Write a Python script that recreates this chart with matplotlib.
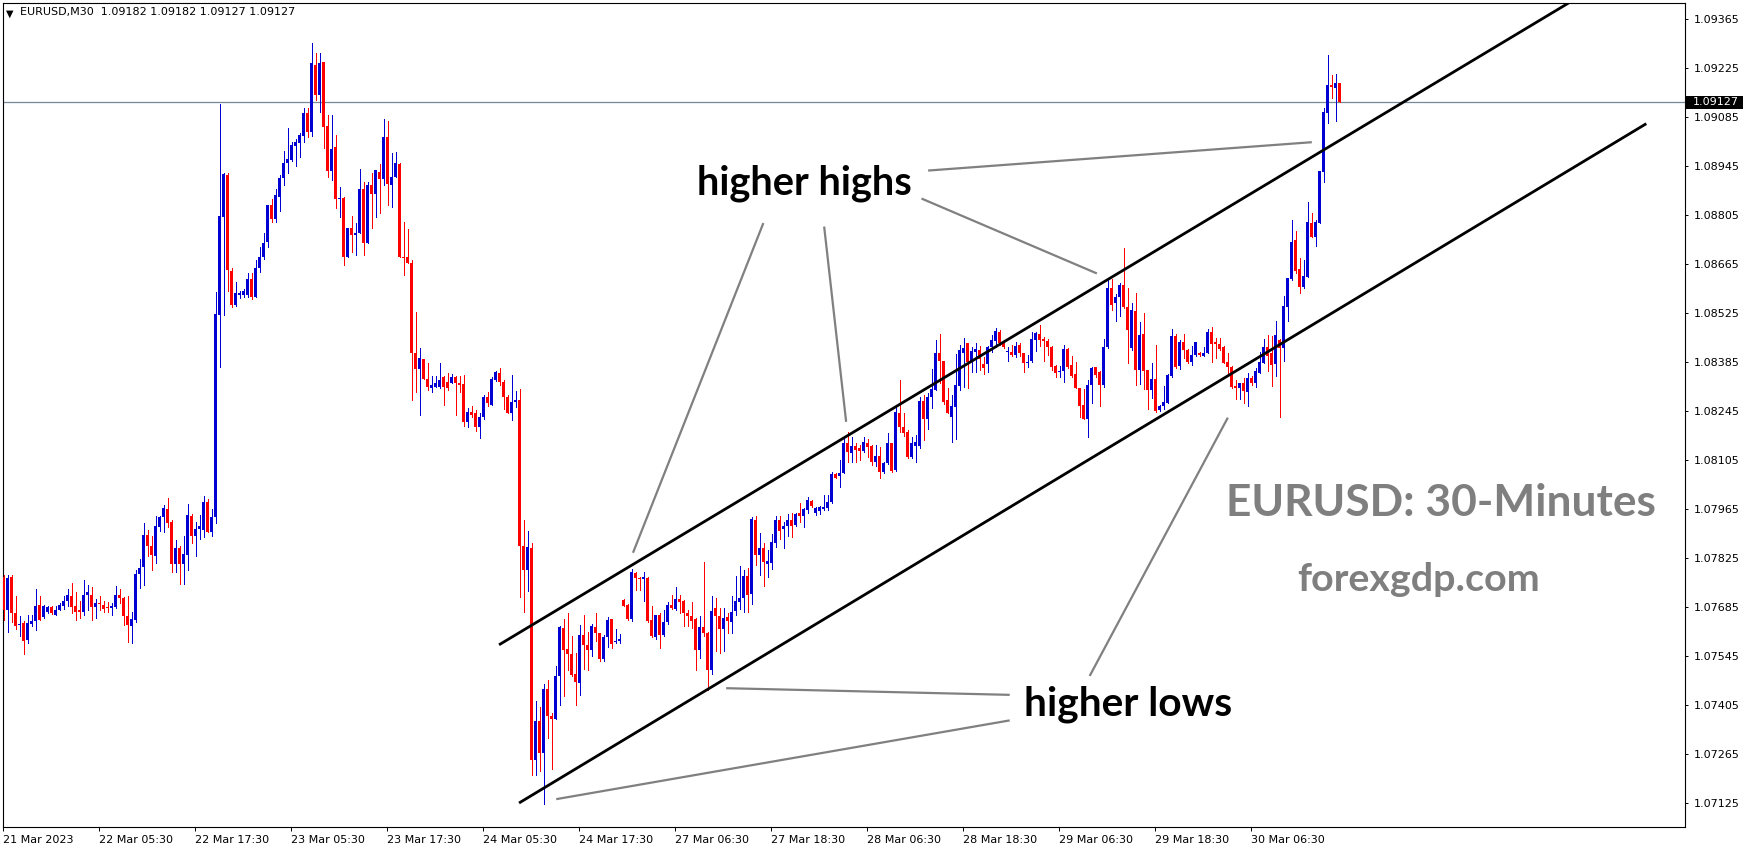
import matplotlib
matplotlib.use("Agg")
import matplotlib.pyplot as plt
import matplotlib.transforms as mtransforms
from matplotlib.patches import Rectangle
import numpy as np

# ---------------- data (EURUSD M30) ----------------
opens = [
    1.07772, 1.07676, 1.07772, 1.07668, 1.07633, 1.07640, 1.07592, 1.07637, 1.07644, 1.07692,
    1.07657, 1.07671, 1.07685, 1.07663, 1.07677, 1.07689, 1.07701, 1.07717, 1.07687, 1.07676,
    1.07671, 1.07718, 1.07720, 1.07685, 1.07695, 1.07692, 1.07683, 1.07681, 1.07685, 1.07719,
    1.07712, 1.07660, 1.07630, 1.07647, 1.07778, 1.07798, 1.07891, 1.07860, 1.07832, 1.07913,
    1.07942, 1.07966, 1.07928, 1.07809, 1.07854, 1.07807, 1.07835, 1.07945, 1.07889, 1.07907,
    1.07906, 1.07985, 1.07898, 1.07942, 1.08519, 1.08800, 1.08919, 1.08646, 1.08548, 1.08577,
    1.08577, 1.08577, 1.08621, 1.08572, 1.08653, 1.08686, 1.08729, 1.08834, 1.08795, 1.08857,
    1.08910, 1.08953, 1.08962, 1.09002, 1.09012, 1.09031, 1.09097, 1.09043, 1.09233, 1.09148,
    1.09243, 1.09059, 1.08932, 1.09000, 1.08851, 1.08855, 1.08686, 1.08767, 1.08748, 1.08754,
    1.08878, 1.08726, 1.08891, 1.08865, 1.08929, 1.08908, 1.09029, 1.08891, 1.08914, 1.08951,
    1.08686, 1.08686, 1.08667, 1.08412, 1.08364, 1.08393, 1.08336, 1.08310, 1.08315, 1.08315,
    1.08343, 1.08329, 1.08326, 1.08343, 1.08324, 1.08322, 1.08214, 1.08243, 1.08238, 1.08200,
    1.08227, 1.08284, 1.08262, 1.08334, 1.08355, 1.08329, 1.08286, 1.08238, 1.08272, 1.08277,
    1.07860, 1.07790, 1.07853, 1.07248, 1.07360, 1.07269, 1.07450, 1.07374, 1.07366, 1.07487,
    1.07625, 1.07565, 1.07551, 1.07494, 1.07468, 1.07606, 1.07577, 1.07561, 1.07627, 1.07611,
    1.07536, 1.07599, 1.07650, 1.07584, 1.07587, 1.07706, 1.07691, 1.07650, 1.07782, 1.07768,
    1.07765, 1.07769, 1.07647, 1.07598, 1.07663, 1.07606, 1.07641, 1.07691, 1.07679, 1.07708,
    1.07701, 1.07669, 1.07660, 1.07650, 1.07563, 1.07628, 1.07612, 1.07506, 1.07682, 1.07660,
    1.07622, 1.07655, 1.07641, 1.07674, 1.07698, 1.07710, 1.07774, 1.07723, 1.07934, 1.07834,
    1.07853, 1.07808, 1.07812, 1.07869, 1.07934, 1.07907, 1.07915, 1.07934, 1.07920, 1.07953,
    1.07944, 1.07963, 1.07989, 1.07953, 1.07958, 1.07966, 1.07967, 1.07986, 1.08065, 1.08059,
    1.08069, 1.08155, 1.08126, 1.08145, 1.08138, 1.08132, 1.08154, 1.08146, 1.08100, 1.08116,
    1.08072, 1.08095, 1.08153, 1.08076, 1.08240, 1.08198, 1.08186, 1.08114, 1.08146, 1.08146,
    1.08273, 1.08221, 1.08284, 1.08305, 1.08411, 1.08389, 1.08276, 1.08229, 1.08257, 1.08316,
    1.08411, 1.08438, 1.08386, 1.08414, 1.08419, 1.08379, 1.08379, 1.08429, 1.08446, 1.08471,
    1.08440, 1.08414, 1.08414, 1.08405, 1.08433, 1.08410, 1.08381, 1.08389, 1.08448, 1.08464,
    1.08452, 1.08445, 1.08429, 1.08373, 1.08357, 1.08360, 1.08421, 1.08376, 1.08351, 1.08312,
    1.08262, 1.08222, 1.08320, 1.08370, 1.08355, 1.08320, 1.08427, 1.08596, 1.08553, 1.08572,
    1.08605, 1.08543, 1.08424, 1.08532, 1.08361, 1.08465, 1.08361, 1.08305, 1.08336, 1.08248,
    1.08260, 1.08269, 1.08345, 1.08460, 1.08374, 1.08441, 1.08420, 1.08386, 1.08405, 1.08412,
    1.08402, 1.08412, 1.08470, 1.08441, 1.08437, 1.08429, 1.08386, 1.08370, 1.08317, 1.08310,
    1.08326, 1.08298, 1.08339, 1.08326, 1.08355, 1.08383, 1.08427, 1.08410, 1.08380, 1.08448,
    1.08424, 1.08541, 1.08621, 1.08734, 1.08650, 1.08599, 1.08629, 1.08783, 1.08743, 1.08783,
    1.08929, 1.09097, 1.09176, 1.09167, 1.09182,
]
highs = [
    1.07777, 1.07777, 1.07777, 1.07715, 1.07660, 1.07644, 1.07663, 1.07663, 1.07737, 1.07715,
    1.07692, 1.07687, 1.07687, 1.07689, 1.07695, 1.07715, 1.07735, 1.07755, 1.07727, 1.07701,
    1.07763, 1.07749, 1.07741, 1.07708, 1.07717, 1.07701, 1.07698, 1.07695, 1.07746, 1.07735,
    1.07714, 1.07715, 1.07672, 1.07790, 1.07822, 1.07926, 1.07904, 1.07889, 1.07944, 1.07945,
    1.07977, 1.07997, 1.07934, 1.07875, 1.07858, 1.07888, 1.07980, 1.07950, 1.07929, 1.07948,
    1.08001, 1.07993, 1.07964, 1.08586, 1.09121, 1.08924, 1.08924, 1.08653, 1.08615, 1.08588,
    1.08593, 1.08638, 1.08638, 1.08675, 1.08715, 1.08753, 1.08834, 1.08850, 1.08878, 1.08919,
    1.08989, 1.09054, 1.09014, 1.09021, 1.09040, 1.09112, 1.09112, 1.09297, 1.09269, 1.09269,
    1.09243, 1.09091, 1.09091, 1.09033, 1.08886, 1.08857, 1.08767, 1.08802, 1.08781, 1.08936,
    1.08900, 1.08900, 1.08926, 1.08933, 1.08951, 1.09079, 1.09073, 1.08981, 1.08984, 1.08953,
    1.08786, 1.08764, 1.08676, 1.08529, 1.08424, 1.08393, 1.08381, 1.08345, 1.08345, 1.08381,
    1.08345, 1.08353, 1.08351, 1.08345, 1.08345, 1.08348, 1.08255, 1.08258, 1.08248, 1.08240,
    1.08290, 1.08298, 1.08343, 1.08360, 1.08367, 1.08333, 1.08290, 1.08348, 1.08303, 1.08307,
    1.07934, 1.07903, 1.07867, 1.07417, 1.07400, 1.07464, 1.07476, 1.07383, 1.07515, 1.07630,
    1.07650, 1.07669, 1.07603, 1.07553, 1.07634, 1.07663, 1.07615, 1.07637, 1.07668, 1.07612,
    1.07606, 1.07656, 1.07650, 1.07622, 1.07609, 1.07708, 1.07694, 1.07795, 1.07784, 1.07772,
    1.07784, 1.07770, 1.07689, 1.07663, 1.07668, 1.07675, 1.07698, 1.07720, 1.07742, 1.07720,
    1.07704, 1.07677, 1.07698, 1.07653, 1.07658, 1.07815, 1.07615, 1.07717, 1.07710, 1.07682,
    1.07682, 1.07668, 1.07715, 1.07774, 1.07803, 1.07791, 1.07796, 1.07942, 1.07944, 1.07896,
    1.07869, 1.07849, 1.07894, 1.07944, 1.07944, 1.07927, 1.07950, 1.07955, 1.07953, 1.07982,
    1.07967, 1.08000, 1.07991, 1.07972, 1.07975, 1.08005, 1.08005, 1.08072, 1.08069, 1.08105,
    1.08167, 1.08186, 1.08172, 1.08153, 1.08148, 1.08172, 1.08164, 1.08148, 1.08148, 1.08143,
    1.08100, 1.08183, 1.08154, 1.08262, 1.08335, 1.08238, 1.08191, 1.08172, 1.08176, 1.08286,
    1.08291, 1.08295, 1.08364, 1.08448, 1.08465, 1.08389, 1.08310, 1.08291, 1.08408, 1.08433,
    1.08455, 1.08438, 1.08429, 1.08438, 1.08431, 1.08398, 1.08431, 1.08462, 1.08481, 1.08476,
    1.08448, 1.08429, 1.08433, 1.08443, 1.08438, 1.08411, 1.08405, 1.08471, 1.08471, 1.08490,
    1.08457, 1.08452, 1.08431, 1.08376, 1.08373, 1.08433, 1.08424, 1.08402, 1.08386, 1.08312,
    1.08307, 1.08334, 1.08370, 1.08370, 1.08358, 1.08450, 1.08620, 1.08621, 1.08580, 1.08612,
    1.08710, 1.08596, 1.08553, 1.08583, 1.08498, 1.08526, 1.08363, 1.08382, 1.08434, 1.08263,
    1.08317, 1.08350, 1.08479, 1.08465, 1.08448, 1.08465, 1.08422, 1.08431, 1.08443, 1.08415,
    1.08429, 1.08479, 1.08484, 1.08453, 1.08455, 1.08431, 1.08410, 1.08374, 1.08334, 1.08326,
    1.08339, 1.08355, 1.08345, 1.08367, 1.08415, 1.08450, 1.08462, 1.08460, 1.08503, 1.08450,
    1.08574, 1.08624, 1.08791, 1.08760, 1.08681, 1.08677, 1.08843, 1.08810, 1.08791, 1.08931,
    1.09110, 1.09262, 1.09205, 1.09208, 1.09182,
]
lows = [
    1.07649, 1.07613, 1.07641, 1.07621, 1.07603, 1.07552, 1.07581, 1.07630, 1.07619, 1.07649,
    1.07654, 1.07668, 1.07666, 1.07663, 1.07676, 1.07679, 1.07687, 1.07668, 1.07649, 1.07654,
    1.07663, 1.07677, 1.07647, 1.07654, 1.07676, 1.07670, 1.07672, 1.07663, 1.07682, 1.07696,
    1.07633, 1.07584, 1.07582, 1.07642, 1.07739, 1.07749, 1.07831, 1.07790, 1.07811, 1.07901,
    1.07898, 1.07913, 1.07784, 1.07784, 1.07752, 1.07750, 1.07790, 1.07869, 1.07830, 1.07879,
    1.07886, 1.07898, 1.07889, 1.07925, 1.08372, 1.08519, 1.08589, 1.08541, 1.08545, 1.08569,
    1.08572, 1.08572, 1.08564, 1.08572, 1.08643, 1.08678, 1.08715, 1.08786, 1.08786, 1.08817,
    1.08891, 1.08926, 1.08960, 1.08945, 1.08972, 1.09014, 1.09029, 1.09031, 1.09135, 1.09100,
    1.08997, 1.08914, 1.08905, 1.08824, 1.08800, 1.08662, 1.08684, 1.08698, 1.08691, 1.08753,
    1.08691, 1.08724, 1.08767, 1.08800, 1.08810, 1.08891, 1.08833, 1.08829, 1.08914, 1.08686,
    1.08634, 1.08667, 1.08277, 1.08298, 1.08233, 1.08336, 1.08305, 1.08300, 1.08313, 1.08310,
    1.08262, 1.08305, 1.08324, 1.08234, 1.08300, 1.08202, 1.08198, 1.08228, 1.08188, 1.08167,
    1.08222, 1.08260, 1.08262, 1.08330, 1.08320, 1.08250, 1.08238, 1.08219, 1.08257, 1.07714,
    1.07670, 1.07730, 1.07205, 1.07205, 1.07217, 1.07122, 1.07312, 1.07221, 1.07364, 1.07406,
    1.07430, 1.07506, 1.07487, 1.07406, 1.07434, 1.07508, 1.07506, 1.07546, 1.07587, 1.07532,
    1.07532, 1.07572, 1.07568, 1.07582, 1.07582, 1.07687, 1.07648, 1.07644, 1.07734, 1.07734,
    1.07701, 1.07641, 1.07599, 1.07595, 1.07568, 1.07603, 1.07637, 1.07679, 1.07677, 1.07668,
    1.07632, 1.07632, 1.07625, 1.07506, 1.07539, 1.07601, 1.07449, 1.07494, 1.07558, 1.07555,
    1.07558, 1.07611, 1.07611, 1.07663, 1.07679, 1.07672, 1.07672, 1.07694, 1.07806, 1.07777,
    1.07746, 1.07770, 1.07793, 1.07856, 1.07879, 1.07853, 1.07887, 1.07885, 1.07917, 1.07927,
    1.07913, 1.07955, 1.07972, 1.07948, 1.07950, 1.07962, 1.07962, 1.07983, 1.08053, 1.08029,
    1.08067, 1.08100, 1.08100, 1.08100, 1.08105, 1.08129, 1.08114, 1.08091, 1.08088, 1.08055,
    1.08069, 1.08094, 1.08072, 1.08074, 1.08186, 1.08173, 1.08110, 1.08110, 1.08100, 1.08138,
    1.08162, 1.08195, 1.08255, 1.08305, 1.08324, 1.08265, 1.08238, 1.08157, 1.08164, 1.08305,
    1.08314, 1.08310, 1.08357, 1.08357, 1.08362, 1.08351, 1.08357, 1.08414, 1.08429, 1.08433,
    1.08424, 1.08389, 1.08402, 1.08400, 1.08402, 1.08357, 1.08370, 1.08386, 1.08417, 1.08431,
    1.08389, 1.08405, 1.08362, 1.08341, 1.08343, 1.08329, 1.08367, 1.08343, 1.08310, 1.08229,
    1.08221, 1.08172, 1.08267, 1.08343, 1.08260, 1.08315, 1.08424, 1.08534, 1.08503, 1.08517,
    1.08539, 1.08383, 1.08420, 1.08320, 1.08323, 1.08307, 1.08250, 1.08282, 1.08241, 1.08246,
    1.08250, 1.08267, 1.08343, 1.08367, 1.08364, 1.08396, 1.08383, 1.08377, 1.08402, 1.08402,
    1.08401, 1.08410, 1.08386, 1.08396, 1.08420, 1.08382, 1.08351, 1.08310, 1.08279, 1.08279,
    1.08267, 1.08258, 1.08320, 1.08315, 1.08353, 1.08383, 1.08358, 1.08317, 1.08345, 1.08229,
    1.08389, 1.08503, 1.08618, 1.08640, 1.08583, 1.08596, 1.08627, 1.08741, 1.08717, 1.08783,
    1.08898, 1.09069, 1.09138, 1.09075, 1.09127,
]
closes = [
    1.07677, 1.07768, 1.07668, 1.07630, 1.07637, 1.07587, 1.07640, 1.07646, 1.07689, 1.07649,
    1.07689, 1.07685, 1.07668, 1.07677, 1.07692, 1.07703, 1.07719, 1.07685, 1.07671, 1.07671,
    1.07720, 1.07728, 1.07685, 1.07695, 1.07694, 1.07680, 1.07681, 1.07687, 1.07719, 1.07710,
    1.07658, 1.07634, 1.07651, 1.07780, 1.07797, 1.07891, 1.07858, 1.07833, 1.07917, 1.07942,
    1.07969, 1.07925, 1.07809, 1.07854, 1.07807, 1.07837, 1.07948, 1.07889, 1.07909, 1.07917,
    1.07985, 1.07898, 1.07942, 1.08521, 1.08802, 1.08921, 1.08648, 1.08548, 1.08581, 1.08581,
    1.08588, 1.08621, 1.08572, 1.08653, 1.08684, 1.08726, 1.08834, 1.08793, 1.08862, 1.08910,
    1.08953, 1.08964, 1.09005, 1.09014, 1.09033, 1.09097, 1.09043, 1.09240, 1.09148, 1.09240,
    1.09057, 1.08932, 1.08993, 1.08851, 1.08855, 1.08686, 1.08767, 1.08748, 1.08754, 1.08878,
    1.08726, 1.08891, 1.08865, 1.08933, 1.08908, 1.09029, 1.08895, 1.08914, 1.08953, 1.08686,
    1.08683, 1.08667, 1.08412, 1.08364, 1.08396, 1.08336, 1.08313, 1.08319, 1.08326, 1.08334,
    1.08313, 1.08310, 1.08343, 1.08324, 1.08320, 1.08214, 1.08243, 1.08233, 1.08200, 1.08227,
    1.08284, 1.08267, 1.08337, 1.08355, 1.08329, 1.08286, 1.08238, 1.08272, 1.08277, 1.07858,
    1.07790, 1.07856, 1.07248, 1.07360, 1.07269, 1.07450, 1.07374, 1.07366, 1.07487, 1.07627,
    1.07561, 1.07551, 1.07491, 1.07470, 1.07606, 1.07577, 1.07563, 1.07630, 1.07611, 1.07536,
    1.07599, 1.07649, 1.07580, 1.07589, 1.07595, 1.07689, 1.07650, 1.07784, 1.07768, 1.07765,
    1.07770, 1.07644, 1.07601, 1.07663, 1.07606, 1.07642, 1.07691, 1.07682, 1.07708, 1.07698,
    1.07669, 1.07658, 1.07644, 1.07563, 1.07628, 1.07612, 1.07506, 1.07674, 1.07658, 1.07622,
    1.07653, 1.07644, 1.07672, 1.07701, 1.07710, 1.07774, 1.07720, 1.07936, 1.07834, 1.07853,
    1.07815, 1.07815, 1.07872, 1.07934, 1.07901, 1.07917, 1.07934, 1.07917, 1.07951, 1.07944,
    1.07965, 1.07991, 1.07974, 1.07967, 1.07970, 1.07972, 1.07986, 1.08065, 1.08055, 1.08069,
    1.08153, 1.08129, 1.08146, 1.08135, 1.08132, 1.08155, 1.08143, 1.08100, 1.08116, 1.08072,
    1.08095, 1.08153, 1.08074, 1.08242, 1.08198, 1.08181, 1.08114, 1.08154, 1.08156, 1.08274,
    1.08221, 1.08284, 1.08308, 1.08411, 1.08389, 1.08271, 1.08238, 1.08259, 1.08319, 1.08419,
    1.08424, 1.08386, 1.08417, 1.08422, 1.08395, 1.08367, 1.08429, 1.08448, 1.08473, 1.08438,
    1.08429, 1.08417, 1.08405, 1.08431, 1.08411, 1.08381, 1.08386, 1.08450, 1.08467, 1.08448,
    1.08445, 1.08429, 1.08371, 1.08354, 1.08360, 1.08421, 1.08370, 1.08345, 1.08310, 1.08259,
    1.08221, 1.08320, 1.08367, 1.08348, 1.08320, 1.08429, 1.08596, 1.08548, 1.08572, 1.08605,
    1.08543, 1.08477, 1.08534, 1.08361, 1.08462, 1.08358, 1.08305, 1.08336, 1.08244, 1.08260,
    1.08272, 1.08348, 1.08460, 1.08372, 1.08441, 1.08418, 1.08386, 1.08405, 1.08443, 1.08405,
    1.08412, 1.08470, 1.08437, 1.08437, 1.08422, 1.08383, 1.08370, 1.08315, 1.08312, 1.08326,
    1.08301, 1.08339, 1.08324, 1.08358, 1.08386, 1.08427, 1.08401, 1.08377, 1.08462, 1.08424,
    1.08545, 1.08624, 1.08729, 1.08646, 1.08599, 1.08631, 1.08786, 1.08743, 1.08786, 1.08931,
    1.09100, 1.09176, 1.09172, 1.09182, 1.09127,
]

symbol = "EURUSD,M30"
xtick_bars = [0, 24, 48, 72, 96, 120, 144, 168, 192, 216, 240, 264, 288, 312]
xtick_labels = ["21 Mar 2023", "22 Mar 05:30", "22 Mar 17:30", "23 Mar 05:30",
                "23 Mar 17:30", "24 Mar 05:30", "24 Mar 17:30", "27 Mar 06:30",
                "27 Mar 18:30", "28 Mar 06:30", "28 Mar 18:30", "29 Mar 06:30",
                "29 Mar 18:30", "30 Mar 06:30"]
ytick_values = [1.07125, 1.07265, 1.07405, 1.07545, 1.07685, 1.07825, 1.07965,
                1.08105, 1.08245, 1.08385, 1.08525, 1.08665, 1.08805, 1.08945,
                1.09085, 1.09225, 1.09365]

# channel lines (bar index, price)
upper_channel_x = [123.8, 391.3]
upper_channel_y = [1.07577, 1.09411]
lower_channel_x = [128.8, 410.7]
lower_channel_y = [1.07125, 1.09066]

# annotation pointer lines (bar index, price)
pointer_lines = [
    ([231.1, 327.05], [1.08932, 1.09013]),
    ([229.45, 273.3], [1.08852, 1.08638]),
    ([189.9, 157.3], [1.08782, 1.07840]),
    ([205.1, 210.6], [1.08772, 1.08214]),
    ([180.6, 251.5], [1.07453, 1.07434]),
    ([138.1, 251.5], [1.07136, 1.07361]),
    ([271.5, 306.05], [1.07488, 1.08226]),
]

# ---------------- figure / layout ----------------
W, H, DPI = 1749, 850, 100
BLUE = "#0000d2"
RED = "#ff0000"

fig = plt.figure(figsize=(W / DPI, H / DPI), dpi=DPI)
fig.patch.set_facecolor("white")
L, R, T, B = 3, 1685, 3, 827
ax = fig.add_axes([L / W, 1 - B / H, (R - L) / W, (B - T) / H])
ax.set_facecolor("white")

PX_PER_UNIT = 35000.0
ax.set_xlim(-0.125, (R - 3.5) / 4.0)
ax.set_ylim(1.09365 - (B - 19) / PX_PER_UNIT, 1.09365 + (19 - T) / PX_PER_UNIT)

o = np.array(opens)
h = np.array(highs)
l = np.array(lows)
c = np.array(closes)
x = np.arange(len(c))
cols = np.where(c >= o, BLUE, RED)

ax.vlines(x, l, h, colors=cols, linewidth=0.72, antialiased=False, zorder=3)
body = np.maximum(np.abs(c - o), 1.0 / PX_PER_UNIT)
ax.bar(x, body, bottom=np.minimum(o, c), width=0.75, color=cols,
       linewidth=0, antialiased=True, zorder=4)

# bid line
ax.axhline(closes[-1], color="#778899", linewidth=0.9, zorder=2)

# channel
ax.plot(upper_channel_x, upper_channel_y, color="black", linewidth=2.0, zorder=5,
        solid_capstyle="butt")
ax.plot(lower_channel_x, lower_channel_y, color="black", linewidth=2.0, zorder=5,
        solid_capstyle="butt")
for xs, ys in pointer_lines:
    ax.plot(xs, ys, color="#808080", linewidth=1.6, zorder=5, solid_capstyle="butt")

# spines / ticks
for sp in ax.spines.values():
    sp.set_color("black")
    sp.set_linewidth(0.8)

ax.yaxis.tick_right()
ax.set_yticks(ytick_values)
ax.set_yticklabels([f"{v:.5f}" for v in ytick_values])
ax.tick_params(axis="y", direction="out", length=2.5, width=0.7, pad=4,
               labelsize=8, colors="black")
ax.set_xticks(np.array(xtick_bars) - 0.25)
ax.set_xticklabels(xtick_labels, ha="left")
ax.tick_params(axis="x", direction="out", length=3, width=0.7, pad=3,
               labelsize=8, colors="black")
for lab in ax.get_xticklabels() + ax.get_yticklabels():
    lab.set_fontfamily("DejaVu Sans")

# ---------------- texts ----------------
fig.canvas.draw()
renderer = fig.canvas.get_renderer()


def fitted_text(xd, yd, s, width_px, **kw):
    t = ax.text(xd, yd, s, fontsize=20, **kw)
    w = t.get_window_extent(renderer).width
    t.set_fontsize(20 * width_px / w)
    return t


bold = dict(family="Lato", fontweight="bold", ha="left", va="baseline", zorder=6)
fitted_text(173.4, 1.08865, "higher highs", 216, color="black", **bold)
fitted_text(255.1, 1.07374, "higher lows", 208, color="black", **bold)
fitted_text(305.6, 1.07945, "EURUSD: 30-Minutes", 431, color="#7f7f7f", **bold)
fitted_text(323.3, 1.07731, "forexgdp.com", 243, color="#7f7f7f", **bold)

ident = mtransforms.IdentityTransform()
# header
fig.text(6, H - 13.5, "\u25bc", fontsize=7, transform=ident, va="center",
         ha="left", color="black")
fig.text(20, H - 12.5,
         f"{symbol}  {opens[-1]:.5f} {highs[-1]:.5f} {lows[-1]:.5f} {closes[-1]:.5f}",
         fontsize=8, transform=ident, va="center", ha="left", color="black",
         family="DejaVu Sans")

# current price label on the price axis
yp = ax.transData.transform((0, closes[-1]))[1]
fig.add_artist(Rectangle((R + 1, yp - 6.5), 57, 13, transform=ident,
                         facecolor="black", edgecolor="none", zorder=10))
fig.text(R + 8, yp, f"{closes[-1]:.5f}", fontsize=8, transform=ident,
         va="center", ha="left", color="white", family="DejaVu Sans", zorder=11)

fig.savefig("out.png", dpi=DPI, facecolor="white")
